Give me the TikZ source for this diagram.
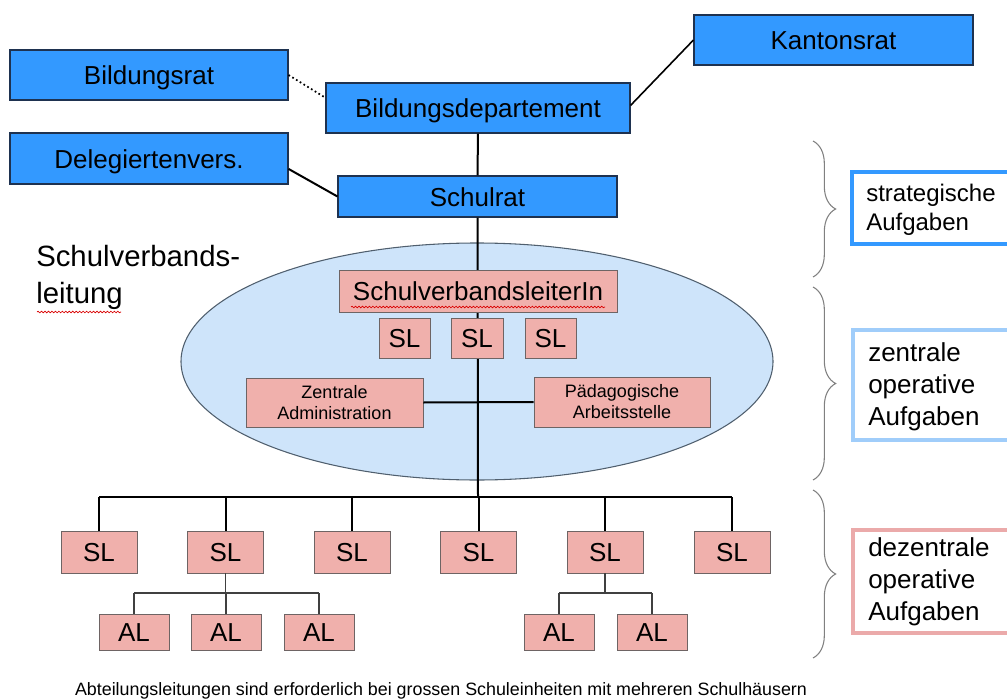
\documentclass[tikz,border=0pt]{standalone}
\usepackage{fontspec}
\setmainfont{Liberation Sans}
\usetikzlibrary{calc,decorations.pathreplacing,decorations.pathmorphing}
\definecolor{bluefill}{RGB}{51,153,255}
\definecolor{bluedraw}{RGB}{30,50,80}
\definecolor{pinkfill}{RGB}{240,176,172}
\definecolor{pinkdraw}{RGB}{110,100,100}
\definecolor{ellfill}{RGB}{206,228,250}
\definecolor{elldraw}{RGB}{80,95,110}
\definecolor{strat}{RGB}{51,153,255}
\definecolor{zentr}{RGB}{160,205,250}
\definecolor{dezen}{RGB}{235,170,170}
\tikzset{
  sz/.style 2 args={minimum width=#1*0.75pt, minimum height=#2*0.75pt},
  oneline/.style={text height=14.4pt, text depth=0pt},
  bluebox/.style={draw=bluedraw, fill=bluefill, line width=0.8pt, inner sep=0pt, oneline, font=\fontsize{19.5}{23}\selectfont},
  pinkbase/.style={draw=pinkdraw, fill=pinkfill, line width=0.6pt, inner sep=0pt},
  pinkbox/.style={pinkbase, oneline, font=\fontsize{19.5}{23}\selectfont},
  smallpink/.style={pinkbase, align=center, font=\fontsize{13.5}{15.8}\selectfont},
  conn/.style={line width=1.5pt, black},
  subconn/.style={line width=0.8pt, black!75},
  bracegrey/.style={draw=black!50, line width=0.8pt, decorate, decoration={brace, amplitude=17pt}},
  sidebox/.style={line width=2.3pt},
  sidetext/.style={anchor=north west, align=left, inner sep=0pt},
  spell/.style={draw=red!85!black, line width=0.5pt, decorate, decoration={snake, amplitude=0.6pt, segment length=2.6pt}}
}
\begin{document}
\begin{tikzpicture}[x=0.75pt,y=-0.75pt]
\useasboundingbox (0,0) rectangle (1007,699);
% ellipse
\fill[ellfill, draw=elldraw, line width=0.8pt] (477,361.5) ellipse [x radius=296, y radius=118.5];
% top boxes
\node[bluebox, sz={278}{50}] (brat) at (149,75) {Bildungsrat};
\node[bluebox, sz={278}{51}] (dv) at (149,158.5) {Delegiertenvers.};
\node[bluebox, sz={304}{50}] (bdep) at (478,108) {Bildungsdepartement};
\node[bluebox, sz={279}{50}] (kr) at (833.5,40) {Kantonsrat};
\node[bluebox, sz={279}{41}] (sr) at (477.5,196.5) {Schulrat};
% hub coordinates
\coordinate (hub) at (478,497);
% connectors at top
\draw[line width=1.3pt, dotted] (brat.east) -- ($(bdep.north west)!0.3!(bdep.south west)$);
\draw[conn] ($(dv.north east)!0.7!(dv.south east)$) -- (sr.west);
\draw[line width=1.2pt] ($(bdep.north east)!0.45!(bdep.south east)$) -- (kr.west);
\draw[conn] (bdep.south) -- (sr.north);
\draw[conn] (sr.south) -- (hub);
% ellipse content
\node[pinkbox, sz={278}{42}] (svl) at (478,291) {SchulverbandsleiterIn};
\node[pinkbox, sz={51}{40}] (s1) at (404.5,338) {SL};
\node[pinkbox, sz={52}{40}] (s2) at (477,338) {SL};
\node[pinkbox, sz={51}{40}] (s3) at (550.5,338) {SL};
\node[smallpink, sz={177}{49}] (za) at (334.5,402.5) {Zentrale\\Administration};
\node[smallpink, sz={176}{50}] (pa) at (622,402) {Pädagogische\\Arbeitsstelle};
\draw[conn] (za.east) -- (pa.west);
\draw[spell] (351,307) -- (605,307);
% label
\node[anchor=north west, align=left, inner sep=0pt, font=\fontsize{22}{27.5}\selectfont] (svlt) at (36,245) {Schulverbands-\\leitung};
\draw[spell] (37,312) -- (121,312);
% bottom SLs
\foreach \n/\x in {1/99,2/225.5,3/352,4/478.5,5/605,6/732}{
  \node[pinkbox, sz={76}{42}] (b\n) at (\x,552) {SL};
}
\draw[conn] (b1 |- hub) -- (b6 |- hub);
\foreach \n in {1,2,3,4,5,6}{
  \draw[conn] (b\n |- hub) -- (b\n.north);
}
% AL boxes
\foreach \n/\x in {1/134,2/226,3/319,4/559,5/652}{
  \node[pinkbox, sz={70}{36}] (a\n) at (\x,632) {AL};
}
\coordinate (j2) at (225.5,593);
\coordinate (j5) at (605,593);
\draw[subconn] (b2.south) -- (j2);
\draw[subconn] (a1 |- j2) -- (a3 |- j2);
\foreach \n in {1,2,3}{ \draw[subconn] (a\n |- j2) -- (a\n.north); }
\draw[subconn] (b5.south) -- (j5);
\draw[subconn] (a4 |- j5) -- (a5 |- j5);
\foreach \n in {4,5}{ \draw[subconn] (a\n |- j5) -- (a\n.north); }
% braces
\draw[bracegrey] (813,141) -- (813,277);
\draw[bracegrey] (813,287) -- (813,480);
\draw[bracegrey] (813,490) -- (813,658);
% side boxes
\draw[strat, sidebox] (1015,172) -- (852,172) -- (852,244) -- (1015,244);
\node[sidetext, font=\fontsize{18}{22}\selectfont] (t1) at (866,184) {strategische\\Aufgaben};
\draw[zentr, sidebox] (1015,330) -- (853,330) -- (853,440) -- (1015,440);
\node[sidetext, font=\fontsize{19.5}{24}\selectfont] (t2) at (868,342) {zentrale\\operative\\Aufgaben};
\draw[dezen, sidebox] (1015,530) -- (853,530) -- (853,633) -- (1015,633);
\node[sidetext, font=\fontsize{19.5}{24}\selectfont] (t3) at (868,537) {dezentrale\\operative\\Aufgaben};
% footnote
\node[inner sep=0pt, anchor=base, font=\fontsize{13.4}{16}\selectfont] (foot) at (441,695) {Abteilungsleitungen sind erforderlich bei grossen Schuleinheiten mit mehreren Schulhäusern};
\end{tikzpicture}
\end{document}
